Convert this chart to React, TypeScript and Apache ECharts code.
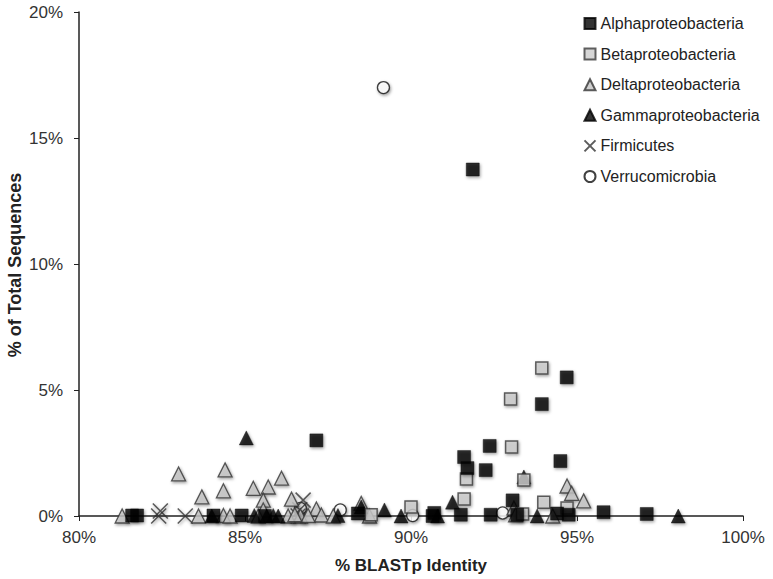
import React, { useEffect, useRef } from "react";
import * as echarts from "echarts";

const xTicks = [80, 85, 90, 95, 100];
const yTicks = [0, 5, 10, 15, 20];
const yTitle = "% of Total Sequences";

const alpha: number[][] = [
  [91.86, 13.75], [87.15, 3.0], [94.69, 5.5], [93.94, 4.44], [92.37, 2.78],
  [91.6, 2.34], [91.7, 1.9], [92.25, 1.82], [94.5, 2.18], [93.06, 0.62],
  [90.7, 0.12], [90.65, 0.0], [91.5, 0.05], [92.4, 0.05], [94.4, 0.1],
  [94.75, 0.05], [95.8, 0.15], [97.1, 0.08], [81.6, 0.02], [81.75, 0.02],
  [84.05, 0.02], [84.9, 0.02], [88.4, 0.1], [85.6, 0.0], [93.2, 0.05],
];
const beta: number[][] = [
  [93.94, 5.87], [93.0, 4.64], [93.03, 2.74], [91.67, 1.47], [91.6, 0.67],
  [93.4, 1.43], [94.0, 0.55], [93.36, 0.08], [94.7, 0.32], [90.0, 0.36],
  [88.8, 0.05],
];
const delta: number[][] = [
  [83.0, 1.67], [84.4, 1.83], [84.35, 1.0], [83.7, 0.76], [85.25, 1.1],
  [85.7, 1.15], [85.55, 0.63], [83.6, 0.0], [84.35, 0.02], [84.55, 0.0],
  [81.3, 0.0], [85.55, 0.24], [86.1, 1.5], [86.4, 0.67], [87.15, 0.28],
  [87.3, 0.04], [86.67, 0.0], [86.9, 0.02], [87.66, 0.0], [86.3, 0.0],
  [88.5, 0.5], [94.7, 1.19], [94.84, 0.9], [95.2, 0.6], [93.1, 0.32],
  [94.27, 0.0], [88.75, 0.0], [93.15, 0.05], [85.4, 0.0], [86.5, 0.05],
];
const gamma: number[][] = [
  [85.04, 3.1], [93.4, 1.55], [85.28, 0.02], [85.85, 0.02], [85.65, 0.0],
  [86.0, 0.0], [87.8, 0.02], [88.5, 0.36], [89.2, 0.24], [89.7, 0.0],
  [91.25, 0.55], [93.8, 0.0], [98.05, 0.0], [84.0, 0.0], [90.8, 0.0],
];
const firmicutes: number[][] = [
  [82.45, 0.2], [82.4, 0.0], [83.2, 0.0], [86.75, 0.63], [86.65, 0.25],
  [86.6, 0.0],
];
const verruco: number[][] = [
  [89.17, 17.0], [87.87, 0.24], [86.67, 0.3], [90.05, 0.02], [92.76, 0.12],
];

const shadow = {
  shadowBlur: 3,
  shadowColor: "rgba(0,0,0,0.45)",
  shadowOffsetX: 1,
  shadowOffsetY: 1.5,
};

export default function App() {
  const ref = useRef<HTMLDivElement>(null);
  useEffect(() => {
    if (!ref.current) return;
    const chart = echarts.init(ref.current, null, { renderer: "svg" });
    const font = "'Liberation Sans', Arial, Helvetica, sans-serif";
    chart.setOption({
      animation: false,
      backgroundColor: "#fff",
      textStyle: { fontFamily: font },
      grid: { left: 79, right: 30, top: 12, bottom: 63, outerBoundsMode: "none", containLabel: false },
      graphic: [
        {
          type: "text",
          x: 15,
          y: 265,
          rotation: Math.PI / 2,
          style: {
            text: yTitle,
            fontSize: 18,
            fontWeight: "bold",
            fontFamily: font,
            fill: "#222",
            align: "center",
            verticalAlign: "middle",
          },
        },
      ],
      legend: {
        orient: "vertical",
        left: 577,
        top: 10.5,
        itemGap: 14.6,
        itemWidth: 11,
        itemHeight: 11,
        textStyle: { fontSize: 16, color: "#222", fontFamily: font },
        data: [
          { name: "Alphaproteobacteria", icon: "rect" },
          { name: "Betaproteobacteria", icon: "rect" },
          { name: "Deltaproteobacteria", icon: "triangle" },
          { name: "Gammaproteobacteria", icon: "triangle" },
          { name: "Firmicutes", icon: "path://M0,0L10,10M10,0L0,10" },
          { name: "Verrucomicrobia", icon: "circle" },
        ],
      },
      xAxis: {
        type: "value",
        min: xTicks[0],
        max: xTicks[xTicks.length - 1],
        interval: 5,
        name: "% BLASTp Identity",
        nameLocation: "middle",
        nameGap: 41,
        nameTextStyle: { fontSize: 17, fontWeight: "bold", color: "#222" },
        axisLine: { lineStyle: { color: "#222", width: 1.5 } },
        axisTick: { show: true, length: 5, lineStyle: { color: "#222" } },
        axisLabel: {
          fontSize: 17,
          color: "#333",
          margin: 13,
          formatter: (v: number) => `${v}%`,
        },
        splitLine: { show: false },
      },
      yAxis: {
        type: "value",
        min: yTicks[0],
        max: yTicks[yTicks.length - 1],
        interval: 5,
        axisLine: { show: true, lineStyle: { color: "#222", width: 1.5 } },
        axisTick: { show: true, length: 5, lineStyle: { color: "#222" } },
        axisLabel: {
          fontSize: 17,
          color: "#333",
          margin: 16,
          formatter: (v: number) => `${v}%`,
        },
        splitLine: { show: false },
      },
      series: [
        {
          name: "Verrucomicrobia",
          type: "scatter",
          symbol: "circle",
          symbolSize: 12,
          data: verruco,
          itemStyle: { color: "#fff", borderColor: "#111", borderWidth: 1.3, ...shadow },
        },
        {
          name: "Firmicutes",
          type: "scatter",
          symbol: "path://M0,0L10,10M10,0L0,10",
          symbolSize: 15,
          data: firmicutes,
          itemStyle: { color: "none", borderColor: "#333", borderWidth: 1.5, ...shadow },
        },
        {
          name: "Deltaproteobacteria",
          type: "scatter",
          symbol: "triangle",
          symbolSize: 14,
          data: delta,
          itemStyle: { color: "#c4c4c4", borderColor: "#333", borderWidth: 1.3, ...shadow },
        },
        {
          name: "Gammaproteobacteria",
          type: "scatter",
          symbol: "triangle",
          symbolSize: 14,
          data: gamma,
          itemStyle: { color: "#000", borderColor: "#000", borderWidth: 0.5, ...shadow },
        },
        {
          name: "Betaproteobacteria",
          type: "scatter",
          symbol: "rect",
          symbolSize: 12,
          data: beta,
          itemStyle: { color: "#cccccc", borderColor: "#3a3a3a", borderWidth: 1.5, ...shadow },
        },
        {
          name: "Alphaproteobacteria",
          type: "scatter",
          symbol: "rect",
          symbolSize: 13,
          data: alpha,
          itemStyle: { color: "#000", borderColor: "#000", borderWidth: 0.5, ...shadow },
        },
      ],
    });
    return () => chart.dispose();
  }, []);
  return (
    <div
      ref={ref}
      style={{ position: "fixed", left: 0, top: 0, width: 773, height: 579 }}
    />
  );
}
